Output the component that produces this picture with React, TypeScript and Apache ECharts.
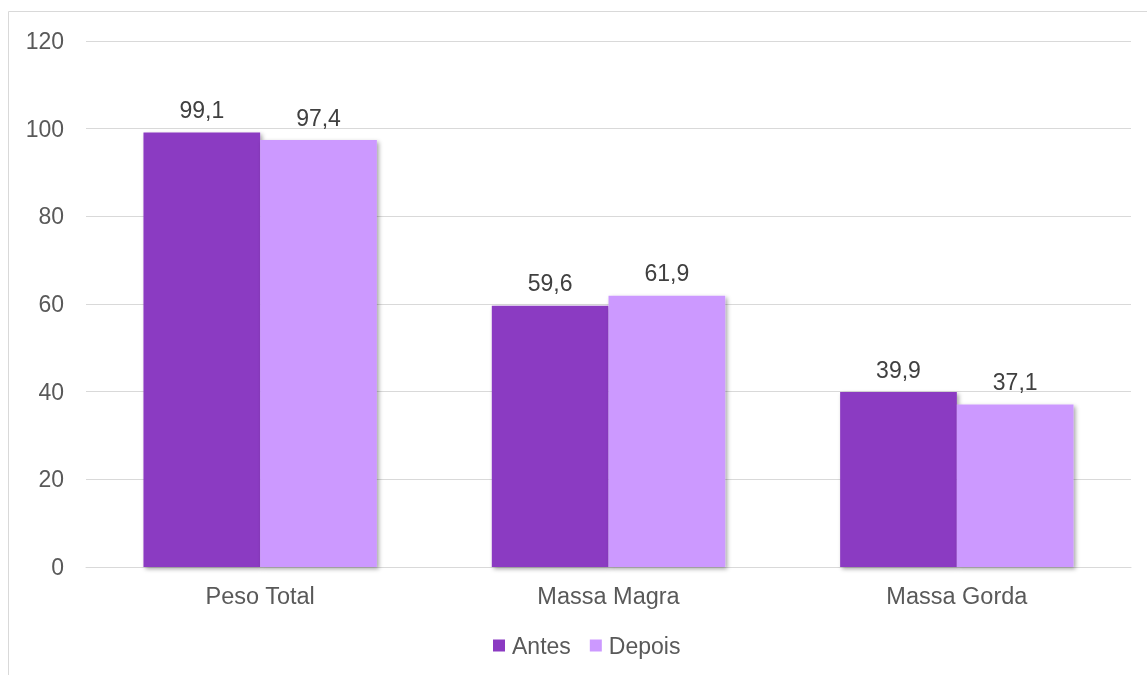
import React, { useEffect, useRef } from "react";
import * as echarts from "echarts";

const categories = ["Peso Total", "Massa Magra", "Massa Gorda"];
const antes = [99.1, 59.6, 39.9];
const depois = [97.4, 61.9, 37.1];
const seriesNames = ["Antes", "Depois"];

export default function App() {
  const ref = useRef<HTMLDivElement>(null);
  useEffect(() => {
    const chart = echarts.init(ref.current!, null, { renderer: "svg" });
    const fmt = (p: any) => String(p.value).replace(".", ",");
    const font = "Liberation Sans, Arial, sans-serif";
    const barStyle = (color: string) => ({
      color,
      shadowColor: "rgba(0,0,0,0.35)",
      shadowBlur: 4,
      shadowOffsetX: 2,
      shadowOffsetY: 2,
    });
    const label = {
      show: true,
      position: "top",
      distance: 11,
      color: "#404040",
      fontSize: 23,
      formatter: fmt,
      fontFamily: font,
    };
    chart.setOption({
      animation: false,
      textStyle: { fontFamily: font },
      graphic: [
        {
          type: "rect",
          shape: { x: 8.5, y: 11.5, width: 1300, height: 800 },
          style: { fill: "none", stroke: "#d9d9d9", lineWidth: 1 },
          silent: true,
        },
      ],
      grid: { left: 86, right: 16, top: 41, bottom: 108 },
      legend: {
        data: seriesNames,
        bottom: 18,
        left: 493,
        padding: 0,
        itemWidth: 12,
        itemHeight: 12,
        itemGap: 19,
        icon: "rect",
        textStyle: { color: "#595959", fontSize: 23, fontFamily: font, padding: [0, 0, 0, 2] },
      },
      xAxis: {
        type: "category",
        data: categories,
        axisLine: { lineStyle: { color: "#d9d9d9", width: 1 } },
        axisTick: { show: false },
        axisLabel: { color: "#595959", fontSize: 23.5, margin: 17, fontFamily: font },
      },
      yAxis: {
        type: "value",
        min: 0,
        max: 120,
        interval: 20,
        axisLine: { show: false },
        axisTick: { show: false },
        splitLine: { lineStyle: { color: "#d9d9d9", width: 1 } },
        axisLabel: { color: "#595959", fontSize: 23, margin: 22, fontFamily: font },
      },
      series: [
        {
          name: seriesNames[0],
          type: "bar",
          data: antes,
          barGap: "0%",
          barCategoryGap: "33%",
          itemStyle: barStyle("#8b3ac2"),
          label,
        },
        {
          name: seriesNames[1],
          type: "bar",
          data: depois,
          barGap: "0%",
          barCategoryGap: "33%",
          itemStyle: barStyle("#cc99ff"),
          label,
        },
      ],
    });
    return () => chart.dispose();
  }, []);
  return <div ref={ref} style={{ position: "fixed", left: 0, top: 0, width: 1147, height: 675 }} />;
}
